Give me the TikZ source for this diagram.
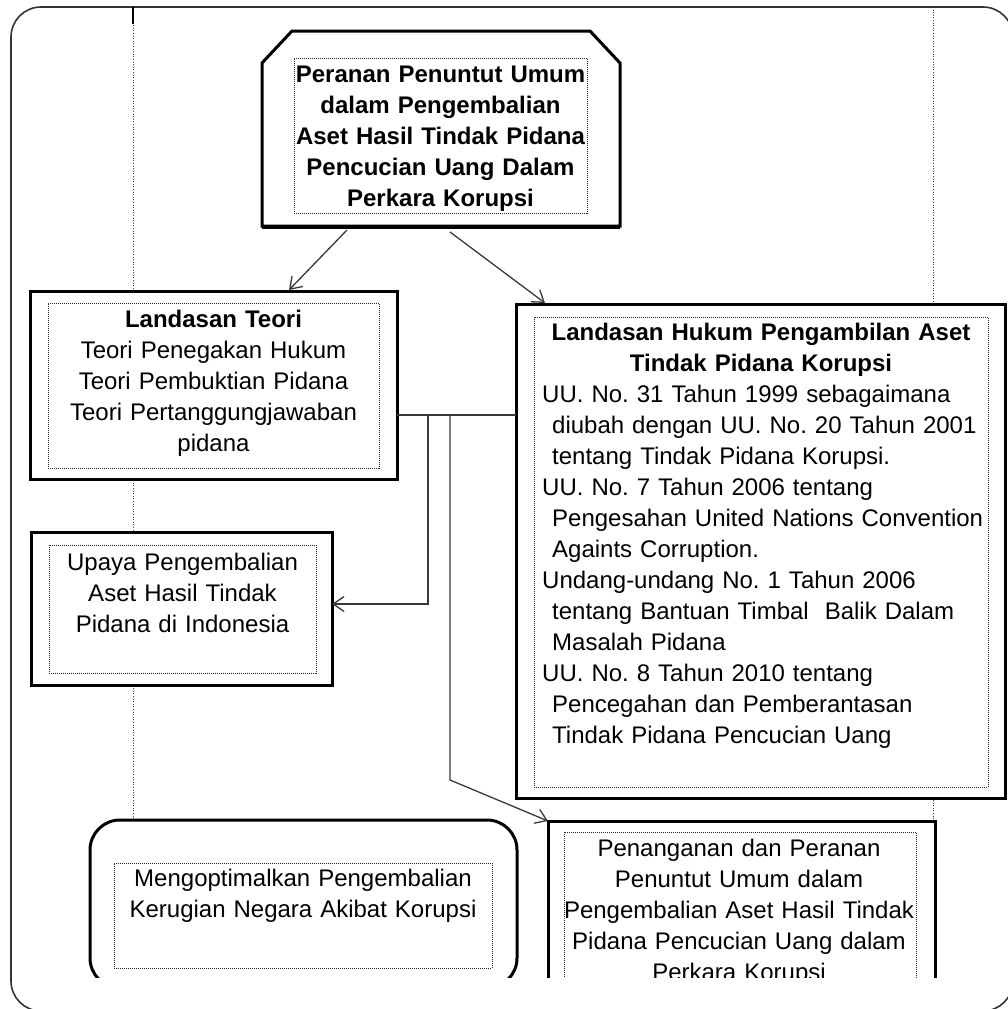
\documentclass[tikz,border=0pt]{standalone}
\usepackage{fontspec}
\setmainfont{Liberation Sans}
\usetikzlibrary{arrows.meta,calc}
\frenchspacing
\begin{document}
\begin{tikzpicture}[x=1pt,y=-1pt,
  obox/.style={draw=black, line width=3pt, fill=white, rectangle, inner sep=0pt, outer sep=0pt},
  ghost/.style={rectangle, inner sep=0pt, outer sep=0pt},
  ibox/.style={draw=black!85, line width=0.9pt, dash pattern=on 1pt off 1pt, rectangle, inner sep=0pt},
  guide/.style={draw=black!75, line width=1pt, dash pattern=on 1pt off 1.6pt},
  txt/.style={font=\fontsize{24}{31}\selectfont, inner sep=0pt, text width=#1, align=center, anchor=base},
  ltxt/.style={font=\fontsize{24}{31}\selectfont, inner sep=0pt, text width=#1, align=left, anchor=base west},
  conn/.style={draw=black!78, line width=1.3pt},
  tip/.style={-{Straight Barb[length=11pt,width=15pt,line width=1.3pt]}},
  frame/.style={draw=black!80, line width=1.6pt, rounded corners=30pt}
]
\useasboundingbox (0,0) rectangle (1008,1009);
\draw[frame] (11,7) rectangle (1013,1011);

\begin{scope}
\clip (0,0) rectangle (1008,977.5);
% column guide lines
\draw[guide] (133,7) -- (133,978);
\draw[guide] (933,7) -- (933,978);
\draw[line width=2.5pt] (133,7) -- (133,24);

% top box (chamfered)
\node[ghost, minimum width=358pt, minimum height=195pt] (top) at (441,128.5) {};
\draw[line width=3pt, fill=white, line join=miter]
  (top.south west) -- ($(top.north west)+(0,32)$) -- ($(top.north west)+(30,0)$)
  -- ($(top.north east)+(-30,0)$) -- ($(top.north east)+(0,32)$) -- (top.south east) -- cycle;
\draw[line width=1.5pt] ($(top.south west)+(0,2)$) -- ($(top.south east)+(0,2)$);
\node[ibox, minimum width=293pt, minimum height=155pt] (topin) at (440.5,135.5) {};
\node[txt=340pt, font=\fontsize{24}{31}\selectfont\bfseries] (toptxt) at (440.5,82)
  {Peranan Penuntut Umum\\ dalam Pengembalian\\ Aset Hasil Tindak Pidana\\ Pencucian Uang Dalam\\ Perkara Korupsi};

% Landasan Teori
\node[obox, minimum width=367pt, minimum height=188pt] (teori) at (213.5,385) {};
\node[ibox, minimum width=331pt, minimum height=165pt] (teoriin) at (213.5,385.5) {};
\node[txt=360pt] (teoritxt) at (213.5,327)
  {\textbf{Landasan Teori}\\ Teori Penegakan Hukum\\ Teori Pembuktian Pidana\\ Teori Pertanggungjawaban\\ pidana};

% Upaya
\node[obox, minimum width=301pt, minimum height=153pt] (upaya) at (181.5,608.5) {};
\node[ibox, minimum width=267pt, minimum height=128pt] (upayain) at (182.5,609) {};
\node[txt=290pt] (upayatxt) at (182.5,570)
  {Upaya Pengembalian\\ Aset Hasil Tindak\\ Pidana di Indonesia};

% Landasan Hukum
\node[obox, minimum width=489pt, minimum height=494pt] (hukum) at (760.5,551) {};
\node[ibox, minimum width=454pt, minimum height=470pt] (hukumin) at (761,552) {};
\node[txt=470pt, font=\fontsize{24}{31}\selectfont\bfseries] (hukumtitle) at (761,340)
  {Landasan Hukum Pengambilan Aset\\ Tindak Pidana Korupsi};
\node[ltxt=470pt] (hukumlist) at (542,402)
  {UU. No. 31 Tahun 1999 sebagaimana\\
   \hspace*{10pt}diubah dengan UU. No. 20 Tahun 2001\\
   \hspace*{10pt}tentang Tindak Pidana Korupsi.\\
   UU. No. 7 Tahun 2006 tentang\\
   \hspace*{10pt}Pengesahan United Nations Convention\\
   \hspace*{10pt}Againts Corruption.\\
   Undang-undang No. 1 Tahun 2006\\
   \hspace*{10pt}tentang Bantuan Timbal~~Balik Dalam\\
   \hspace*{10pt}Masalah Pidana\\
   UU. No. 8 Tahun 2010 tentang\\
   \hspace*{10pt}Pencegahan dan Pemberantasan\\
   \hspace*{10pt}Tindak Pidana Pencucian Uang};

% Mengoptimalkan (rounded)
\node[obox, rounded corners=30pt, minimum width=427pt, minimum height=168pt] (optim) at (303.5,904) {};
\node[ibox, minimum width=378pt, minimum height=105pt] (optimin) at (303,915.5) {};
\node[txt=420pt] (optimtxt) at (303,886)
  {Mengoptimalkan Pengembalian\\ Kerugian Negara Akibat Korupsi};

% Penanganan
\node[obox, minimum width=387pt, minimum height=179pt] (penang) at (741.5,910.5) {};
\node[ibox, minimum width=352pt, minimum height=158pt] (penangin) at (740,911) {};
\node[txt=380pt] (penangtxt) at (739,856)
  {Penanganan dan Peranan\\ Penuntut Umum dalam\\ Pengembalian Aset Hasil Tindak\\ Pidana Pencucian Uang dalam\\ Perkara Korupsi};

% connectors
\draw[conn, tip] ($(top.south)+(-94,4)$) -- ($(teori.north)+(75.5,-1)$);
\draw[conn, tip] ($(top.south)+(9,6)$) -- ($(hukum.north)+(-215.5,-1)$);
\coordinate (j0) at ($(teori.east)+(0,30)$);
\coordinate (j1) at ($(j0)+(31,0)$);
\coordinate (j2) at ($(j0)+(53,0)$);
\draw[conn] (j0) -- (hukum.west |- j0);
\draw[conn, tip] (j1) |- ($(upaya.east)+(0,-4.5)$);
\draw[conn, tip] (j2) -- ($(j2)+(0,365)$) -- (penang.north west);
\end{scope}
\end{tikzpicture}
\end{document}
